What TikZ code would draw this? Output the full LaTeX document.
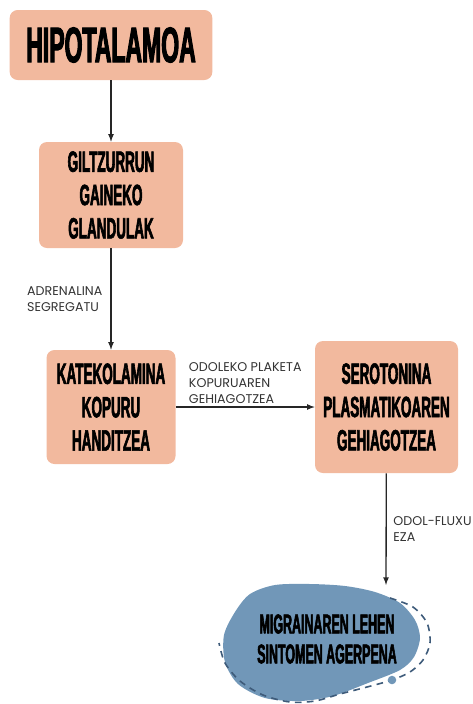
\documentclass[tikz,border=0pt]{standalone}
\usepackage{fontspec}
\usetikzlibrary{arrows,positioning}
\newfontfamily\boxfont[FakeStretch=0.46,FakeBold=2]{Liberation Sans Bold}
\newfontfamily\labelfont{Poppins}
\definecolor{salmon}{HTML}{F2B99E}
\definecolor{blobblue}{HTML}{7197B8}
\definecolor{dashblue}{HTML}{3E5B7A}

\begin{document}
\begin{tikzpicture}[x=0.75pt,y=-0.75pt,>=latex,
    box/.style={fill=salmon,rounded corners=6pt,align=center,inner sep=0pt,
        font=\boxfont\fontsize{22}{25}\selectfont},
    lbl/.style={font=\labelfont\fontsize{9.5}{12}\selectfont,align=left,text=black!80},
    link/.style={->,line width=1pt,draw=black!85}]
        \useasboundingbox (0,0) rectangle (472,704);
        \node[box,minimum width=152pt,minimum height=52.5pt,font=\boxfont\fontsize{37.5}{40}\selectfont] (HT) at (111,45) {HIPOTALAMOA};
        \node[box,minimum width=108pt,minimum height=79.5pt] (GG) at (111,195) {GILTZURRUN\\GAINEKO\\GLANDULAK};
        \node[box,minimum width=96.75pt,minimum height=85.5pt] (KK) at (111,407) {KATEKOLAMINA\\KOPURU\\HANDITZEA};
        \node[box,minimum width=107.25pt,minimum height=99pt] (SP) at (386.5,407) {SEROTONINA\\PLASMATIKOAREN\\GEHIAGOTZEA};
        % migraine blob
        \fill[blobblue] plot[smooth cycle] coordinates {(250,594) (275,585) (310,584) (345,586) (375,592) (400,603) (415,620) (420,638) (414,657) (400,670) (368,683) (333,696) (300,701) (265,698) (238,684) (225,662) (224,635) (235,612)};
        \draw[dashblue,line width=1.2pt,dash pattern=on 5pt off 4pt] plot[smooth] coordinates {(390,598) (413,607) (427,623) (430,643) (423,660) (410,672) (392,680) (367,687) (340,694) (315,701) (290,702) (263,695) (240,681) (225,663) (219,643)};
        \fill[blobblue] (392,680) circle (3.2pt);
        \node[align=center,font=\boxfont\fontsize{20.3}{22.5}\selectfont] (MS) at (327,639) {MIGRAINAREN LEHEN\\SINTOMEN AGERPENA};
        \coordinate (MT) at (386,585);
        \draw[link] (HT) -- (GG);
        \draw[link] (GG) -- (KK) node[midway,left,lbl,inner sep=6pt] {ADRENALINA\\SEGREGATU};
        \draw[link] (KK) -- (SP) node[midway,above,lbl,inner sep=2pt] {ODOLEKO PLAKETA\\KOPURUAREN\\GEHIAGOTZEA};
        \draw[link] (SP) -- (MT) node[midway,right,lbl,inner sep=5pt] {ODOL-FLUXU\\EZA};
    \end{tikzpicture}
\end{document}
